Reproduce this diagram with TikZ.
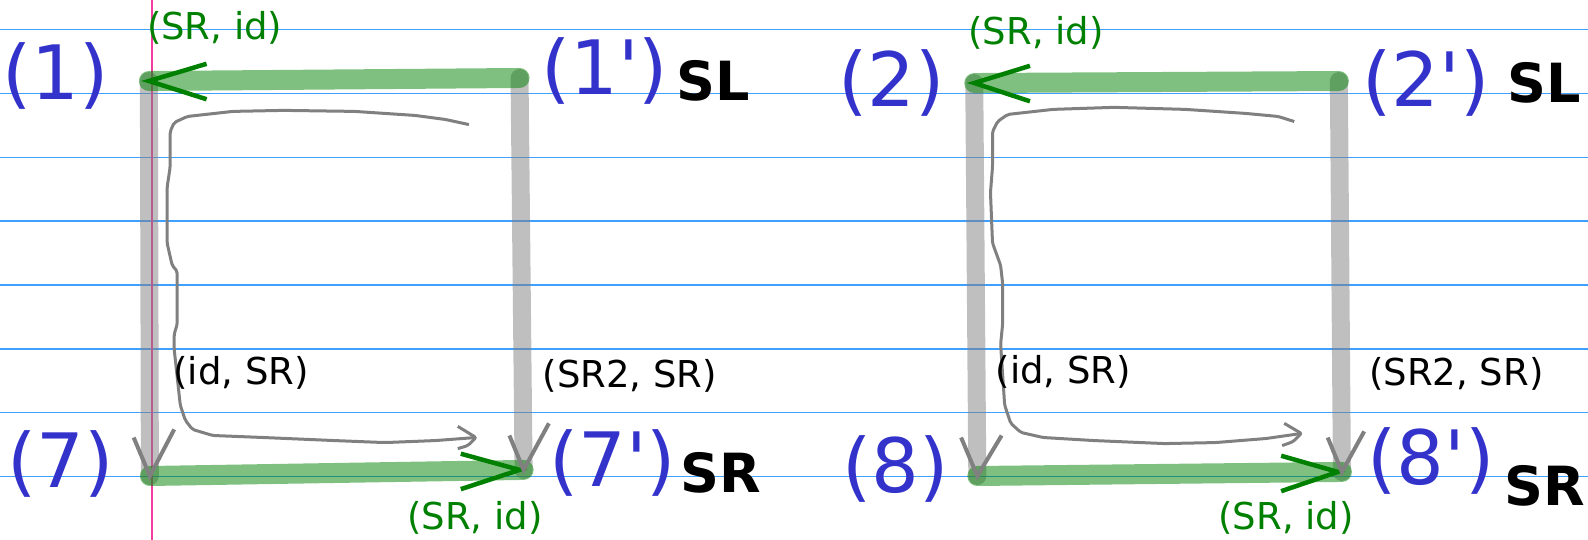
\documentclass[tikz,border=0pt]{standalone}
\usepackage{fontspec}
\setmainfont{DejaVu Sans}
\usetikzlibrary{calc}
\definecolor{rule}{RGB}{64,160,255}
\definecolor{margin}{RGB}{240,60,160}
\definecolor{numblue}{RGB}{51,51,204}
\definecolor{darkgreen}{RGB}{0,128,0}

\begin{document}
\begin{tikzpicture}[x=1.01276pt,y=-1.01276pt,
    num/.style={text=numblue,font=\fontsize{75}{75}\selectfont,inner sep=0pt},
    side/.style={font=\bfseries\fontsize{54}{54}\selectfont,inner sep=0pt},
    lbl/.style={font=\fontsize{37}{37}\selectfont,inner sep=0pt},
    glbl/.style={lbl,text=darkgreen},
    gbar/.style={line width=18pt,line cap=round,gray,opacity=0.5},
    hbar/.style={line width=20pt,line cap=round,green!50!black,opacity=0.5},
    gtip/.style={line width=4.5pt,darkgreen},
    vtip/.style={line width=4pt,gray},
    hand/.style={line width=3pt,gray,rounded corners=2pt}]
  \useasboundingbox (0,0) rectangle (1568,533.2);
  % ruled paper
  \foreach \k in {0,...,7}
    \draw[rule,line width=1.3pt] (0,29+63.1*\k) -- (1568,29+63.1*\k);
  \draw[margin,line width=1.6pt] (150,0) -- (150,533.2);

  % first square
  \coordinate (tl1) at (147,80);
  \coordinate (tr1) at (513,77);
  \coordinate (bl1) at (148,470);
  \coordinate (br1) at (517,464);
  \draw[gbar] (tl1) -- (bl1);
  \draw[gbar] (tr1) -- (br1);
  \draw[hbar] (tr1) -- (tl1);
  \draw[hbar] (bl1) -- (br1);
  \draw[gtip] ($(tl1)+(57,-17)$) -- (tl1) -- ($(tl1)+(57,18)$);
  \draw[gtip] ($(br1)+(-62,-16)$) -- ($(br1)+(-4,0)$) -- ($(br1)+(-62,19)$);
  \draw[vtip] ($(bl1)+(-16,-38)$) -- (bl1) -- ($(bl1)+(24,-46)$);
  \draw[vtip] ($(br1)+(-14,-34)$) -- (br1) -- ($(br1)+(25,-46)$);
  \draw[hand] (463,123) -- (440,118) -- (410,114) -- (350,110) -- (280,109) -- (230,110)
    -- (185,115) -- (172,121) -- (168,130) -- (168,165) -- (165,185) -- (165,240)
    -- (170,262) -- (175,268) -- (175,320) -- (172,330) -- (172,345) -- (178,400)
    -- (183,415) -- (190,424) -- (210,430) -- (260,432) -- (330,435) -- (380,437)
    -- (430,435) -- (470,432);
  \draw[hand] (452,421) -- (470,432) -- (462,440) -- (452,443);
  \node[num] (p1) at (55,75) {(1)};
  \node[num] (p1b) at (597,70) {(1\textquotesingle)};
  \node[side] (sl1) at (704,80) {SL};
  \node[glbl] (top1) at (212,28) {(SR, id)};
  \node[lbl] (left1) at (238,368) {(id, SR)};
  \node[lbl] (right1) at (622,371) {(SR2, SR)};
  \node[num] (p7) at (60,458) {(7)};
  \node[num] (p7b) at (605,457) {(7\textquotesingle)};
  \node[side] (sr1) at (712,467) {SR};
  \node[glbl] (bot1) at (469,511) {(SR, id)};

  % second square
  \coordinate (tl2) at (962,82);
  \coordinate (tr2) at (1322,80);
  \coordinate (bl2) at (965,470);
  \coordinate (br2) at (1325,466);
  \draw[gbar] (tl2) -- (bl2);
  \draw[gbar] (tr2) -- (br2);
  \draw[hbar] (tr2) -- (tl2);
  \draw[hbar] (bl2) -- (br2);
  \draw[gtip] ($(tl2)+(55,-17)$) -- (tl2) -- ($(tl2)+(55,18)$);
  \draw[gtip] ($(br2)+(-60,-16)$) -- ($(br2)+(-4,0)$) -- ($(br2)+(-60,19)$);
  \draw[vtip] ($(bl2)+(-16,-38)$) -- (bl2) -- ($(bl2)+(24,-40)$);
  \draw[vtip] ($(br2)+(-14,-34)$) -- (br2) -- ($(br2)+(22,-40)$);
  \draw[hand] (1278,120) -- (1262,115) -- (1230,112) -- (1170,108) -- (1100,106) -- (1040,108)
    -- (995,113) -- (985,120) -- (980,130) -- (980,165) -- (978,190) -- (980,240)
    -- (988,262) -- (990,280) -- (990,320) -- (988,340) -- (992,400)
    -- (998,418) -- (1008,427) -- (1030,432) -- (1080,435) -- (1150,438) -- (1200,437)
    -- (1250,433) -- (1285,428);
  \draw[hand] (1268,418) -- (1285,428) -- (1277,436) -- (1266,440);
  \node[num] (p2) at (880,82) {(2)};
  \node[num] (p2b) at (1408,82) {(2\textquotesingle)};
  \node[side] (sl2) at (1525,82) {SL};
  \node[glbl] (top2) at (1023,32) {(SR, id)};
  \node[lbl] (left2) at (1050,367) {(id, SR)};
  \node[lbl] (right2) at (1438,369) {(SR2, SR)};
  \node[num] (p8) at (884,463) {(8)};
  \node[num] (p8b) at (1413,455) {(8\textquotesingle)};
  \node[side] (sr2) at (1525,480) {SR};
  \node[glbl] (bot2) at (1270,511) {(SR, id)};
\end{tikzpicture}
\end{document}
